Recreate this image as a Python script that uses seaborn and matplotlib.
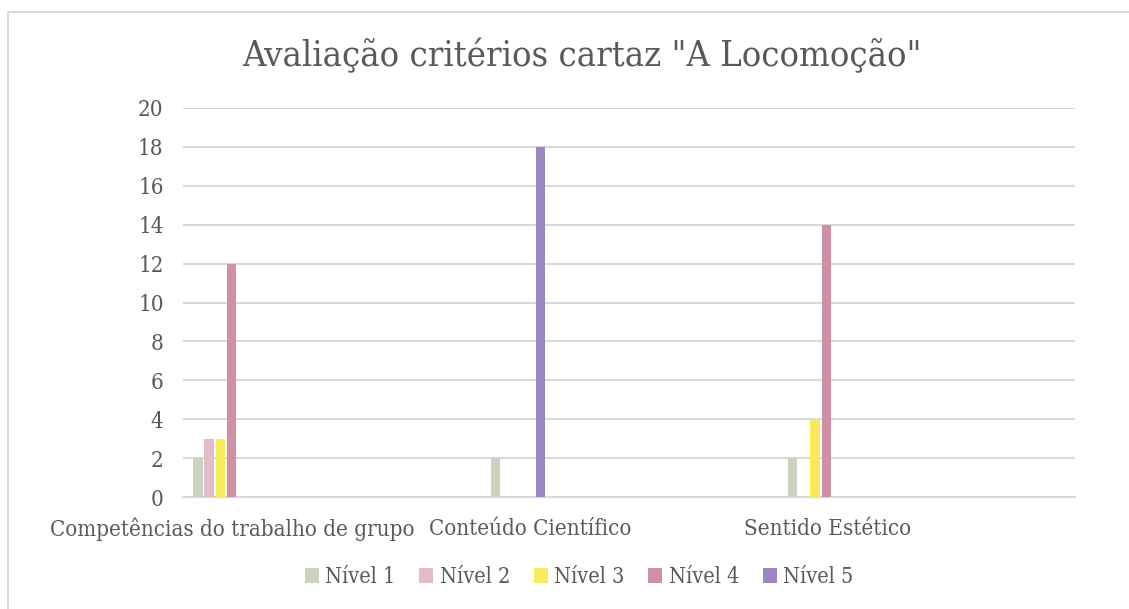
import matplotlib
matplotlib.use("Agg")
import matplotlib.pyplot as plt
from matplotlib.lines import Line2D
from matplotlib.transforms import ScaledTranslation
import seaborn as sns
import pandas as pd

# Avaliação dos critérios do cartaz, por nível
criterios = ["Competências do trabalho de grupo", "Conteúdo Científico", "Sentido Estético"]
niveis = ["Nível 1", "Nível 2", "Nível 3", "Nível 4", "Nível 5"]
nivel_1 = [2, 2, 2]
nivel_2 = [3, 0, 0]
nivel_3 = [3, 0, 4]
nivel_4 = [12, 0, 14]
nivel_5 = [0, 18, 0]
cores = ["#C9D3BD", "#E2BCCA", "#FAEB5A", "#D08FA4", "#9E86C2"]
titulo = 'Avaliação critérios cartaz "A Locomoção"'
y_ticks = [0, 2, 4, 6, 8, 10, 12, 14, 16, 18, 20]

series = [nivel_1, nivel_2, nivel_3, nivel_4, nivel_5]
rows = []
for nivel, valores in zip(niveis, series):
    for crit, v in zip(criterios, valores):
        rows.append({"criterio": crit, "nivel": nivel, "valor": v})
df = pd.DataFrame(rows)

sns.set_theme(style="white")
plt.rcParams["font.family"] = ["DejaVu Serif"]
plt.rcParams["font.stretch"] = "condensed"
texto = "#595959"
grelha = "#D9D9D9"

fig = plt.figure(figsize=(11.29, 6.09), dpi=100)
ax = fig.add_axes([183 / 1129, 1 - 497 / 609, (1075 - 183) / 1129, (497 - 108) / 609])

sns.barplot(data=df, x="criterio", y="valor", hue="nivel", order=criterios,
            hue_order=niveis, palette=cores, width=0.19, gap=0.17,
            saturation=1, linewidth=0, ax=ax, legend=True, zorder=3)

ax.set_ylim(0, 20)
ax.set_xlim(-0.126, 2.874)
ax.set_yticks(y_ticks)
ax.set_xlabel("")
ax.set_ylabel("")
ax.yaxis.grid(True, color=grelha, linewidth=1.5, zorder=0)
ax.set_axisbelow(True)
for s in ["top", "right", "left"]:
    ax.spines[s].set_visible(False)
ax.spines["bottom"].set_color(grelha)
ax.spines["bottom"].set_linewidth(1.5)
ax.tick_params(axis="y", length=0, pad=14, labelsize=16, labelcolor=texto)
ax.tick_params(axis="x", length=0, pad=15, labelsize=16, labelcolor=texto)
off = ScaledTranslation(12 / 100, 0, fig.dpi_scale_trans)
for lab in ax.get_xticklabels():
    lab.set_transform(lab.get_transform() + off)

leg = ax.get_legend()
handles = leg.legend_handles
leg.remove()
fig.legend(handles, niveis, loc="center", bbox_to_anchor=(579 / 1129, 1 - 577 / 609),
           ncol=5, frameon=False, fontsize=15.5, labelcolor=texto,
           handlelength=0.65, handleheight=0.65, handletextpad=0.3, columnspacing=1.1)

fig.text(582 / 1129, 1 - 56 / 609, titulo, ha="center", va="center",
         fontsize=26, color=texto)

# moldura da área do gráfico (lados superior e esquerdo)
x0, y0 = 7.5 / 1129, 1 - 11.5 / 609
fig.add_artist(Line2D([x0, 1.0], [y0, y0], transform=fig.transFigure,
                      color=grelha, linewidth=1.5))
fig.add_artist(Line2D([x0, x0], [y0, 0.0], transform=fig.transFigure,
                      color=grelha, linewidth=1.5))

fig.savefig("out.png", dpi=100, facecolor="white")
